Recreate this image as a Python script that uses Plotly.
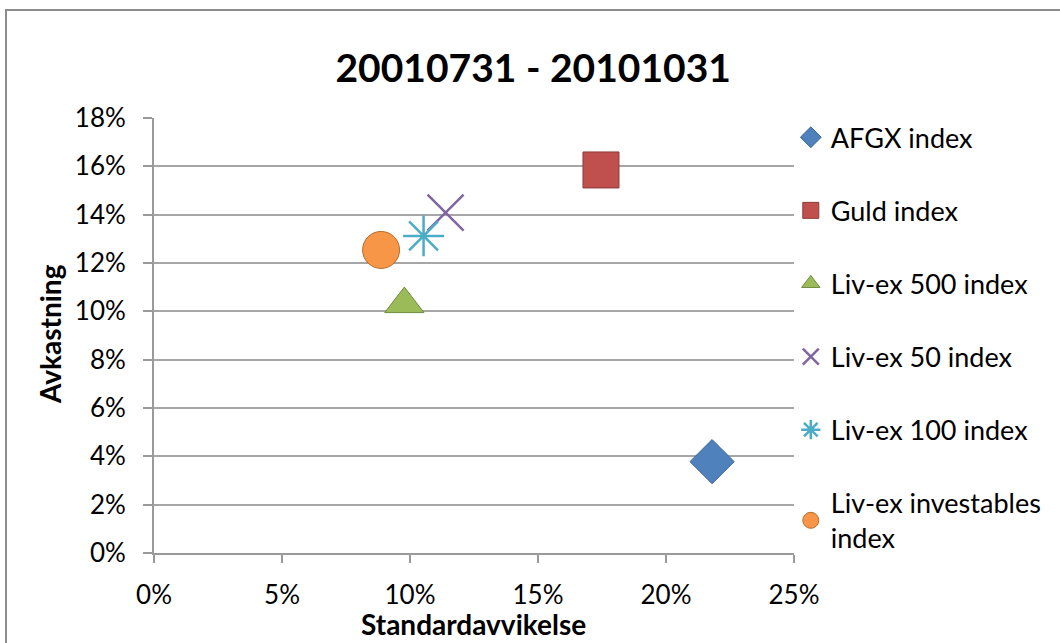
import plotly.graph_objects as go

names = ["AFGX index", "Guld index", "Liv-ex 500 index", "Liv-ex 50 index",
         "Liv-ex 100 index", "Liv-ex investables<br>index"]
std_dev = [0.218, 0.1746, 0.0978, 0.1139, 0.1053, 0.0887]
returns = [0.0378, 0.1585, 0.1030, 0.1408, 0.1312, 0.1254]
colors = ["#4F81BD", "#C0504D", "#9BBB59", "#8064A2", "#4BACC6", "#F79646"]
borders = ["#3A6496", "#8E3B39", "#71893F", "#8064A2", "#4BACC6", "#B66D2E"]
symbols = ["diamond", "square", "triangle-up", "x-thin-open", "asterisk-open", "circle"]
sizes = [34, 36, 34, 36, 34, 37]

x_ticks = [0, 0.05, 0.10, 0.15, 0.20, 0.25]
x_labels = ["0%", "5%", "10%", "15%", "20%", "25%"]
y_ticks = [0, 0.02, 0.04, 0.06, 0.08, 0.10, 0.12, 0.14, 0.16, 0.18]
y_labels = ["0%", "2%", "4%", "6%", "8%", "10%", "12%", "14%", "16%", "18%"]
x_title = "Standardavvikelse"
y_title = "Avkastning"

FONT = "Lato"
fig = go.Figure()
for n, xv, yv, c, b, s, sz in zip(names, std_dev, returns, colors, borders, symbols, sizes):
    open_sym = s.endswith("-open")
    fig.add_trace(go.Scatter(
        x=[xv], y=[yv], mode="markers", name=n, legendgroup=n,
        marker=dict(symbol=s, size=sz, color=c,
                    line=dict(color=c if open_sym else b, width=2.5 if open_sym else 1)),
    ))

fig.update_layout(
    width=1060, height=643,
    paper_bgcolor="white", plot_bgcolor="white",
    margin=dict(l=154, r=266, t=118, b=90),
    title=dict(text="<b>20010731 - 20101031</b>", x=0.503, xref="container",
               xanchor="center", y=1 - 68 / 643, yanchor="middle",
               font=dict(family=FONT, size=39, color="black")),
    font=dict(family=FONT, color="black"),
    showlegend=True,
    legend=dict(x=0.995, y=1.011, xanchor="left", yanchor="top",
                font=dict(family=FONT, size=27, color="black"),
                tracegroupgap=35, itemsizing="trace", maxheight=640,
                bgcolor="rgba(0,0,0,0)"),
    xaxis=dict(range=[0, 0.25], tickvals=x_ticks, ticktext=x_labels,
               automargin=False,
               showgrid=False, zeroline=False, showline=True,
               linecolor="#9a9a9a", linewidth=2, ticks="outside",
               ticklen=8, tickwidth=2, tickcolor="#9a9a9a",
               ticklabelstandoff=10,
               tickfont=dict(family=FONT, size=26, color="black")),
    yaxis=dict(range=[0, 0.18], tickvals=y_ticks, ticktext=y_labels,
               automargin=False,
               showgrid=True, gridcolor="#a6a6a6", gridwidth=2,
               zeroline=False, showline=True,
               linecolor="#9a9a9a", linewidth=2, ticks="outside",
               ticklen=9, tickwidth=2, tickcolor="#9a9a9a",
               ticklabelstandoff=12,
               tickfont=dict(family=FONT, size=26, color="black")),
    annotations=[
        dict(text=f"<b>{x_title}</b>", xref="paper", yref="paper",
             x=(473 - 154) / 640, y=(553 - 624) / 435,
             xanchor="center", yanchor="middle", showarrow=False,
             font=dict(family=FONT, size=28, color="black")),
        dict(text=f"<b>{y_title}</b>", xref="paper", yref="paper",
             x=(50 - 154) / 640, y=(553 - 334) / 435, textangle=-90,
             xanchor="center", yanchor="middle", showarrow=False,
             font=dict(family=FONT, size=28, color="black")),
    ],
    shapes=[dict(type="rect", xref="paper", yref="paper",
                 x0=(6 - 154) / 640, x1=(1075 - 154) / 640,
                 y0=(553 - 680) / 435, y1=(553 - 10) / 435,
                 line=dict(color="#8c8c8c", width=2), fillcolor="rgba(0,0,0,0)",
                 layer="below")],
)

fig.write_html("out.html")
